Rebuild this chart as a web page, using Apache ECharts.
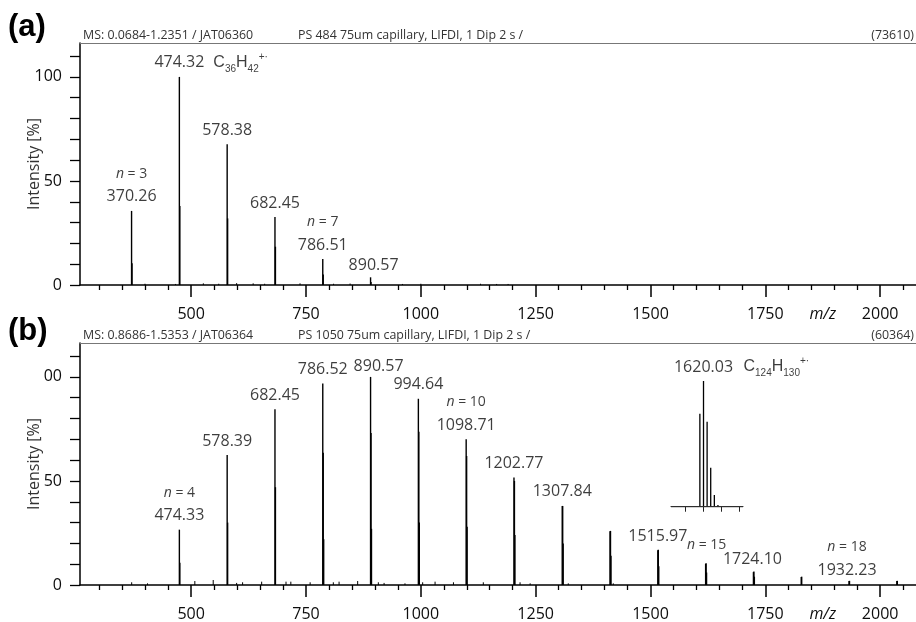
<!DOCTYPE html>
<html><head><meta charset="utf-8">
<script src="https://cdn.jsdelivr.net/npm/echarts@6/dist/echarts.min.js"></script>
<style>html,body{margin:0;padding:0;background:#fff}#c{width:916px;height:622px}</style>
</head><body><div id="c"></div>
<script>
// ---------------- data ----------------
const X_MIN = 258, X_MAX = 2078, Y_MAX = 116.3;
const xMajorTicks = [500, 750, 1000, 1250, 1500, 1750, 2000];
const xMinorTicks = [300,350,400,450,550,600,650,700,800,850,900,950,1050,1100,1150,1200,1300,1350,1400,1450,1550,1600,1650,1700,1800,1850,1900,1950,2050];
const xAxisTitle = 'm/z';
const xAxisTitleAt = 1875;
const yTicks = [0,10,20,30,40,50,60,70,80,90,100,110];
const yLabelsA = {0: '0', 50: '50', 100: '100'};
const yLabelsB = {0: '0', 50: '50', 100: '00'};
const yAxisTitle = 'Intensity [%]';

// panel (a)
const peakMzA  = [370.26, 474.32, 578.38, 682.45, 786.51, 890.57];
const peakIntA = [35.6, 100, 67.6, 32.7, 12.5, 3.7];
const isoMzA   = [371.26, 475.32, 579.38, 683.45, 787.51, 891.57];
const isoIntA  = [10.4, 38, 32, 18.4, 5, 1.5];
const noiseMzA  = [399.5, 466, 526.5, 560, 599, 635, 660, 737, 810, 846, 960, 1000, 1130, 1165, 1190];
const noiseIntA = [0.6, 0.5, 0.8, 0.6, 0.9, 0.8, 0.6, 0.8, 0.6, 0.7, 0.5, 0.6, 0.6, 0.5, 0.5];
const labelA = ['370.26', '474.32', '578.38', '682.45', '786.51', '890.57'];
const nA     = [3, null, null, null, 7, null];
const headerA = ['MS: 0.0684-1.2351 / JAT06360', 'PS 484 75um capillary, LIFDI, 1 Dip 2 s /', '(73610)'];
const formulaA = {mz: 474.32, C: '36', H: '42', charge: '+·'};

// panel (b)
const peakMzB  = [474.33, 578.39, 682.45, 786.52, 890.57, 994.64, 1098.71, 1202.77, 1307.84, 1411.90, 1515.97, 1620.03, 1724.10, 1828.16, 1932.23, 2036.29];
const peakIntB = [26.6, 62.5, 84.5, 96.8, 100, 89.5, 70, 51.7, 38, 25.8, 16.7, 10.2, 6.2, 3.8, 1.9, 1.9];
const isoMzB   = [475.33, 579.39, 683.45, 787.52, 891.57, 995.64, 1099.71, 1203.77, 1308.84, 1412.90, 1516.97, 1621.03, 1725.10, 1829.16, 1933.23, 2037.29];
const isoIntB  = [10.7, 30, 47, 63.6, 73, 73.7, 62, 50, 38, 26, 17, 10.5, 6.5, 4, 2, 2];
const iso2MzB  = [788.52, 892.57, 996.64, 1100.71, 1204.77, 1309.84, 1413.90, 1517.97, 1622.03, 1726.10];
const iso2IntB = [22, 27, 30, 28, 24, 20, 14, 9, 6, 4];
const noiseMzB  = [370.5, 405, 508, 548, 599, 612, 653.5, 706.5, 717, 759, 809.5, 822, 862.5, 907.5, 920, 965.5, 1004, 1031, 1071, 1136, 1216, 1238, 1321, 1419];
const noiseIntB = [1.3, 0.8, 1.9, 2.4, 1.0, 1.3, 1.6, 1.6, 1.6, 1.3, 1.3, 1.6, 1.9, 1.3, 1.0, 0.8, 1.3, 1.6, 1.3, 1.3, 1.3, 0.8, 0.8, 0.8];
const labelB = ['474.33', '578.39', '682.45', '786.52', '890.57', '994.64', '1098.71', '1202.77', '1307.84', '', '1515.97', '', '1724.10', '', '1932.23', ''];
const nB     = [4, null, null, null, null, null, 10, null, null, null, null, 15, null, null, 18, null];
const headerB = ['MS: 0.8686-1.5353 / JAT06364', 'PS 1050 75um capillary, LIFDI, 1 Dip 2 s /', '(60364)'];

// inset of (b): isotope pattern of n = 15
const INSET_MIN = 1611, INSET_MAX = 1631;
const insetTicks = [1615, 1620, 1625, 1630];
const insetMz  = [1619.02, 1620.03, 1621.03, 1622.03, 1623.04, 1624.04];
const insetInt = [74, 100, 67.5, 31, 9.3, 1.4];
const insetLabel = '1620.03';
const formulaInset = {mz: 1620.03, C: '124', H: '130', charge: '+·'};

// --------------- chart ----------------
const FONT = 'Open Sans';
const TXT = '#0d0d0d';
const zip = (a, b) => a.map((v, i) => [v, b[i]]);

const chart = echarts.init(document.getElementById('c'), null, {renderer: 'canvas'});

function stickSeries(xi, yi, data, width, color) {
  return {
    type: 'custom', coordinateSystem: 'cartesian2d', xAxisIndex: xi, yAxisIndex: yi,
    silent: true, clip: true, data: data,
    renderItem: function (params, api) {
      const b = api.coord([api.value(0), 0]);
      const t = api.coord([api.value(0), api.value(1)]);
      return {type: 'line', shape: {x1: b[0], y1: b[1], x2: t[0], y2: t[1]},
        style: {stroke: color || '#000', lineWidth: width}};
    }
  };
}

const rich = {
  ni: {fontFamily: FONT, fontSize: 14, fontStyle: 'italic', lineHeight: 24, color: TXT},
  ns: {fontFamily: FONT, fontSize: 14, lineHeight: 24, color: TXT},
  v:  {fontFamily: FONT, fontSize: 16, lineHeight: 22, color: TXT},
  f:  {fontFamily: 'Liberation Sans', fontSize: 16, lineHeight: 22, color: TXT},
  sub: {fontFamily: 'Liberation Sans', fontSize: 10, lineHeight: 10, verticalAlign: 'bottom', color: TXT},
  sup: {fontFamily: 'Liberation Sans', fontSize: 10, lineHeight: 12, verticalAlign: 'top', color: TXT}
};

// small label position tweaks (pixels)
const adjust = {'a:890.57': [3, 2], 'b:890.57': [8, 4], 'b:1724.10': [-1, 1], 'b:1932.23': [-2, 3], 'b:1620.03': [1, -4]};

function labelSeries(tag, xi, yi, mz, ints, texts, ns) {
  const data = mz.map((m, i) => {
    let parts = [];
    if (ns[i] != null) parts.push('{ni|n}{ns| = ' + ns[i] + '}');
    if (texts[i]) parts.push('{v|' + texts[i] + '}');
    if (!parts.length) return null;
    const off = adjust[tag + ':' + m.toFixed(2)] || [0, 0];
    return {value: [m, ints[i]], label: {formatter: parts.join('\n'), offset: off}};
  }).filter(Boolean);
  return {
    type: 'scatter', xAxisIndex: xi, yAxisIndex: yi, symbolSize: 0, silent: true,
    itemStyle: {color: 'transparent'}, data: data,
    label: {show: true, position: 'top', distance: 3, align: 'center', rich: rich}
  };
}

function formulaSeries(xi, yi, f, mzArr, intArr, dx) {
  const y = intArr[mzArr.indexOf(f.mz)];
  return {
    type: 'scatter', xAxisIndex: xi, yAxisIndex: yi, symbolSize: 0, silent: true,
    itemStyle: {color: 'transparent'},
    data: [{value: [f.mz, y]}],
    label: {show: true, position: [dx, -14], align: 'left', verticalAlign: 'middle', rich: rich,
      formatter: '{f|C}{sub|' + f.C + '}{f|H}{sub|' + f.H + '}{sup|' + f.charge + '}'}
  };
}

function xAxesFor(gi) {
  const lbl = xMajorTicks.concat([xAxisTitleAt]);
  return [
    {gridIndex: gi, type: 'value', min: X_MIN, max: X_MAX, position: 'bottom',
      axisLine: {show: true, lineStyle: {color: '#000', width: 1.5}},
      axisTick: {show: true, customValues: xMajorTicks, length: 12, lineStyle: {color: '#000', width: 1.5}},
      axisLabel: {show: true, customValues: lbl, margin: 21, fontFamily: FONT, fontSize: 16, color: TXT,
        formatter: v => v === xAxisTitleAt ? '{i|' + xAxisTitle + '}' : String(v),
        rich: {i: {fontFamily: FONT, fontSize: 16, fontStyle: 'italic', color: TXT}}},
      splitLine: {show: false}},
    {gridIndex: gi, type: 'value', min: X_MIN, max: X_MAX, position: 'bottom',
      axisLine: {show: false},
      axisTick: {show: true, customValues: xMinorTicks, length: 5, lineStyle: {color: '#000', width: 1.3}},
      axisLabel: {show: false}, splitLine: {show: false}},
    {gridIndex: gi, type: 'value', min: X_MIN, max: X_MAX, position: 'top',
      axisLine: {show: true, lineStyle: {color: '#777', width: 1}},
      axisTick: {show: false}, axisLabel: {show: false}, splitLine: {show: false}}
  ];
}

function yAxisFor(gi, labels) {
  return {gridIndex: gi, type: 'value', min: 0, max: Y_MAX,
    name: yAxisTitle, nameLocation: 'middle', nameGap: 38, nameMoveOverlap: false,
    nameTextStyle: {fontFamily: FONT, fontSize: 16, color: '#333'},
    axisLine: {show: true, lineStyle: {color: '#000', width: 1.5}},
    axisTick: {show: true, customValues: yTicks, length: 10, lineStyle: {color: '#000', width: 1.3}},
    axisLabel: {show: true, customValues: [0, 50, 100], margin: 18, fontFamily: FONT, fontSize: 16, color: TXT,
      formatter: v => labels[v] || ''},
    splitLine: {show: false}};
}

const option = {
  animation: false,
  backgroundColor: '#fff',
  grid: [
    {left: 80, top: 43, width: 836, height: 242},
    {left: 80, top: 343, width: 836, height: 243},
    {left: 671, top: 381, width: 72, height: 129}
  ],
  xAxis: xAxesFor(0).concat(xAxesFor(1)).concat([
    {gridIndex: 2, type: 'value', min: INSET_MIN, max: INSET_MAX,
      axisLine: {show: true, lineStyle: {color: '#222', width: 1}},
      axisTick: {show: true, customValues: insetTicks, length: 5, lineStyle: {color: '#222', width: 1}},
      axisLabel: {show: false}, splitLine: {show: false}}
  ]),
  yAxis: [
    yAxisFor(0, yLabelsA),
    yAxisFor(1, yLabelsB),
    {gridIndex: 2, type: 'value', min: -2.6, max: 100, show: false, splitLine: {show: false}}
  ],
  graphic: [
    {type: 'text', left: 8, top: 12, style: {text: '(a)', font: 'bold 31px "Liberation Sans"', fill: '#000'}},
    {type: 'text', left: 8, top: 316, style: {text: '(b)', font: 'bold 31px "Liberation Sans"', fill: '#000'}},
    {type: 'text', left: 83, top: 29, style: {text: headerA[0], font: '12.4px "Open Sans"', fill: '#333'}},
    {type: 'text', left: 298, top: 29, style: {text: headerA[1], font: '12.4px "Open Sans"', fill: '#333'}},
    {type: 'text', right: 2, top: 29, style: {text: headerA[2], font: '12.4px "Open Sans"', fill: '#333'}},
    {type: 'text', left: 83, top: 329, style: {text: headerB[0], font: '12.4px "Open Sans"', fill: '#333'}},
    {type: 'text', left: 298, top: 329, style: {text: headerB[1], font: '12.4px "Open Sans"', fill: '#333'}},
    {type: 'text', right: 2, top: 329, style: {text: headerB[2], font: '12.4px "Open Sans"', fill: '#333'}}
  ],
  series: [
    stickSeries(0, 0, zip(noiseMzA, noiseIntA), 1),
    stickSeries(0, 0, zip(isoMzA, isoIntA), 1.4),
    stickSeries(0, 0, zip(peakMzA, peakIntA), 1.4),
    labelSeries('a', 0, 0, peakMzA, peakIntA, labelA, nA),
    formulaSeries(0, 0, formulaA, peakMzA, peakIntA, 34),

    stickSeries(3, 1, zip(noiseMzB, noiseIntB), 1),
    stickSeries(3, 1, zip(iso2MzB, iso2IntB), 1.4),
    stickSeries(3, 1, zip(isoMzB, isoIntB), 1.4),
    stickSeries(3, 1, zip(peakMzB, peakIntB), 1.4),
    labelSeries('b', 3, 1, peakMzB, peakIntB, labelB, nB),

    {type: 'line', xAxisIndex: 6, yAxisIndex: 2, silent: true, symbol: 'none',
      data: [[INSET_MIN, 0], [INSET_MAX, 0]], lineStyle: {color: '#333', width: 1}},
    stickSeries(6, 2, zip(insetMz, insetInt), 1.3),
    labelSeries('i', 6, 2, insetMz, insetInt, insetMz.map(m => m.toFixed(2) === insetLabel ? insetLabel : ''), insetMz.map(() => null)),
    formulaSeries(6, 2, formulaInset, insetMz, insetInt, 40)
  ]
};
chart.setOption(option);
</script>
</body></html>
